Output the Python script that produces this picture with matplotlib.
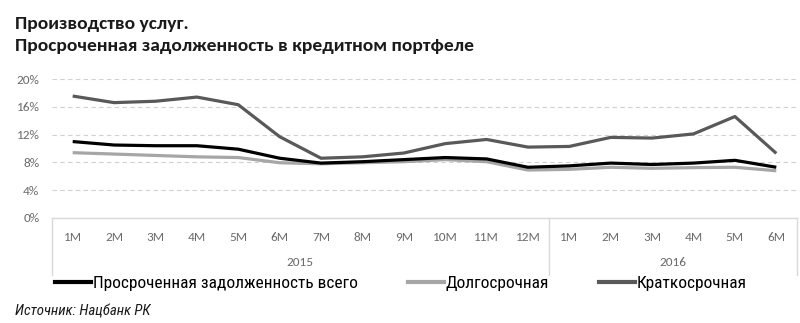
import matplotlib
matplotlib.use("Agg")
import matplotlib.pyplot as plt
import matplotlib.transforms as mtransforms
from matplotlib.lines import Line2D

plt.rcParams['font.family'] = ['Carlito', 'DejaVu Sans']
narrow = ['Roboto Condensed', 'DejaVu Sans']

months = ["1M", "2M", "3M", "4M", "5M", "6M", "7M", "8M", "9M", "10M", "11M", "12M",
          "1M", "2M", "3M", "4M", "5M", "6M"]
years = ["2015", "2016"]
months_per_year = [12, 6]

total = [11.0, 10.5, 10.4, 10.4, 9.9, 8.6, 7.9, 8.1, 8.4, 8.7, 8.5, 7.3,
         7.5, 7.9, 7.7, 7.9, 8.3, 7.3]
long_term = [9.4, 9.2, 9.0, 8.8, 8.7, 7.95, 7.8, 7.95, 8.1, 8.4, 8.1, 6.9,
             7.0, 7.3, 7.15, 7.25, 7.3, 6.8]
short_term = [17.55, 16.6, 16.8, 17.4, 16.3, 11.7, 8.6, 8.8, 9.35, 10.7, 11.3, 10.2,
              10.3, 11.6, 11.5, 12.1, 14.6, 9.3]

names = ["Просроченная задолженность всего", "Долгосрочная", "Краткосрочная"]
colors = ["#000000", "#a6a6a6", "#595959"]

W, H = 800, 323
fig = plt.figure(figsize=(W / 100, H / 100), dpi=100)
ax = fig.add_axes([52 / W, 1 - 218 / H, 745 / W, 139 / H])

x = list(range(len(months)))
ax.plot(x, long_term, color=colors[1], lw=2.3, zorder=3, solid_capstyle='butt')
ax.plot(x, short_term, color=colors[2], lw=2.3, zorder=3, solid_capstyle='butt')
ax.plot(x, total, color=colors[0], lw=2.3, zorder=4, solid_capstyle='butt')

ax.set_xlim(-0.5, len(months) - 0.5)
ax.set_ylim(0, 20)
ax.set_yticks([0, 4, 8, 12, 16, 20])
ax.set_yticklabels([f"{v}%" for v in [0, 4, 8, 12, 16, 20]])
ax.yaxis.grid(True, color="#d0d0d0", linestyle=(0, (4, 3)), lw=0.8)
ax.set_axisbelow(True)
for s in ["top", "right", "left"]:
    ax.spines[s].set_visible(False)
ax.spines["bottom"].set_color("#d9d9d9")
ax.spines["bottom"].set_linewidth(1.0)
ax.tick_params(axis="y", length=0, labelsize=9.5, labelcolor="#6b6b6b", pad=9)
ax.set_xticks(x)
ax.set_xticklabels(months)
ax.tick_params(axis="x", length=0, labelsize=9.5, labelcolor="#6b6b6b", pad=10)

# group box under the month labels
trans = mtransforms.blended_transform_factory(ax.transData, ax.transAxes)
depth = -(275 - 218) / 139
edges = [-0.5]
for n in months_per_year:
    edges.append(edges[-1] + n)
for e in edges:
    ax.add_line(Line2D([e, e], [0, depth], transform=trans, color="#d9d9d9",
                       lw=1.0, clip_on=False))
for i, yr in enumerate(years):
    mid = (edges[i] + edges[i + 1]) / 2
    ax.text(mid, -(263 - 218) / 139, yr, transform=trans, ha="center", va="center",
            fontsize=9.5, color="#6b6b6b")

fig.text(15 / W, 1 - 28.5 / H, "Производство услуг.", fontsize=14, fontweight="bold",
         ha="left", va="baseline", color="#1a1a1a")
fig.text(15 / W, 1 - 50.5 / H, "Просроченная задолженность в кредитном портфеле",
         fontsize=14, fontweight="bold", ha="left", va="baseline", color="#1a1a1a")

handles = [Line2D([], [], color=c, lw=3) for c in colors]
fig.legend(handles, names, loc="center left", bbox_to_anchor=(55 / W, 1 - 283 / H),
           ncol=3, frameon=False, borderpad=0, borderaxespad=0, handlelength=2.1,
           handletextpad=0.1, columnspacing=2.85,
           prop={"family": narrow, "size": 12.5})

fig.text(15 / W, 1 - 312 / H, "Источник: Нацбанк РК", fontsize=10.7, style="italic",
         family=narrow, ha="left", va="center", color="#1a1a1a")

fig.savefig("out.png", dpi=100)
